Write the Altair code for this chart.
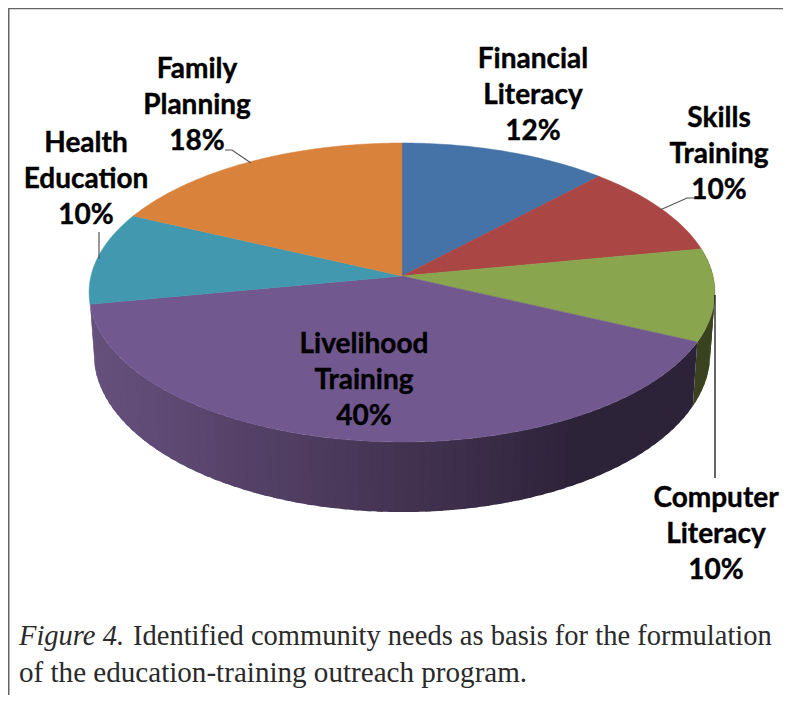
import math
import altair as alt

# ---- chart values ----
categories = ["Financial Literacy", "Skills Training", "Computer Literacy",
              "Livelihood Training", "Health Education", "Family Planning"]
shares = [12, 10, 10, 40, 10, 18]
top_colors = ["#4572a7", "#aa4643", "#89a54e", "#71588f", "#4198af", "#d8823c"]

label_lines = [
    ["Financial", "Literacy", "12%"],
    ["Skills", "Training", "10%"],
    ["Computer", "Literacy", "10%"],
    ["Livelihood", "Training", "40%"],
    ["Health", "Education", "10%"],
    ["Family", "Planning", "18%"],
]
caption_italic = "Figure 4."
caption_rest = "Identified community needs as basis for the formulation"
caption_second = "of the education-training outreach program."

# ---- layout (page pixels) ----
W, H = 775, 687
CX, R = 402, 311
label_anchor = [(533, 68), (719, 127), (716, 507), (364, 353), (86, 152), (197, 78)]
leaders = [
    [(225, 150), (232, 150), (251, 163)],
    [(99, 232), (99, 259)],
    [(695, 198), (687, 198), (660, 210)],
]
computer_leader = [(715, 295), (715, 478)]
frame = [[(8.75, 695), (8.75, 8.5), (783, 8.5)]]


def project(theta_deg, bottom=False):
    t = math.radians(theta_deg)
    u, v = math.sin(t), math.cos(t)
    w = 1 + 0.1104 * v
    x = R * u / w
    y = (276 - 117.2 * v) / w
    if bottom:
        x *= 0.985
        y += 70 * (0.89 / w) ** 1.3
    return [CX + x, y]


def side_color(x):
    stops = [(90, (0x66, 0x51, 0x7e)), (300, (0x4f, 0x3c, 0x60)),
             (400, (0x43, 0x33, 0x51)), (480, (0x3a, 0x2c, 0x48)),
             (570, (0x2d, 0x23, 0x39)), (720, (0x2d, 0x23, 0x39))]
    for (x0, c0), (x1, c1) in zip(stops, stops[1:]):
        if x0 <= x <= x1:
            f = (x - x0) / (x1 - x0)
            return "#%02x%02x%02x" % tuple(round(a + (b - a) * f) for a, b in zip(c0, c1))
    return "#%02x%02x%02x" % stops[0][1]


def poly(points, color):
    pts = [list(p) for p in points]
    pts.append(pts[0])
    return {"type": "Feature", "properties": {"color": color},
            "geometry": {"type": "Polygon", "coordinates": [pts]}}


def line(points, color, width):
    return {"type": "Feature", "properties": {"color": color, "sw": width},
            "geometry": {"type": "LineString", "coordinates": [list(p) for p in points]}}


# Turn the shares into slice boundaries
bounds = [0]
for s in shares:
    bounds.append(bounds[-1] + s * 3.6)

walls = []
# side walls: only the two slices whose rim faces the viewer; strips overlap to avoid seams
for i, (a, b) in enumerate(zip(bounds, bounds[1:])):
    if categories[i] not in ("Computer Literacy", "Livelihood Training"):
        continue
    n = max(2, int((b - a) / 2))
    for k in range(n):
        t0 = a + (b - a) * k / n
        t1 = min(b, t0 + (b - a) / n + 1.0)
        m = (t0 + t1) / 2
        strip = [project(t0 + (t1 - t0) * j / 4) for j in range(5)]
        under = [project(t0 + (t1 - t0) * j / 4, True) for j in range(4, -1, -1)]
        if categories[i] == "Computer Literacy":
            col = "#3a4220"
        else:
            col = side_color(project(m, True)[0])
        walls.append(poly(strip + under, col))

tops = []
for i, (a, b) in enumerate(zip(bounds, bounds[1:])):
    n = max(2, int(b - a))
    arc = [project(a + (b - a) * k / n) for k in range(n + 1)]
    tops.append(poly([[CX, 276]] + arc, top_colors[i]))

lines = [line(f, "#666666", 1.5) for f in frame]
lines += [line(l, "#555555", 1.2) for l in leaders]
lines.append(line(computer_leader, "#000000", 1.2))

proj = alt.Projection(type="identity", scale=1, translate=[-8, -8]).to_dict()

wall_layer = alt.Chart(alt.Data(values=walls)).mark_geoshape(strokeWidth=0).encode(
    fill=alt.Color("properties.color:N", scale=None),
).project(**proj)

top_layer = alt.Chart(alt.Data(values=tops)).mark_geoshape(strokeWidth=0.5).encode(
    fill=alt.Color("properties.color:N", scale=None),
    stroke=alt.Color("properties.color:N", scale=None),
).project(**proj)

line_layer = alt.Chart(alt.Data(values=lines)).mark_geoshape(filled=False).encode(
    stroke=alt.Color("properties.color:N", scale=None),
    strokeWidth=alt.StrokeWidth("properties.sw:Q", scale=None),
).project(**proj)

x_enc = alt.X("x:Q", scale=alt.Scale(domain=[8, 8 + W]), axis=None)
y_enc = alt.Y("y:Q", scale=alt.Scale(domain=[8, 8 + H], reverse=True), axis=None)

rows = []
for lines3, (lx, ly) in zip(label_lines, label_anchor):
    for j, t in enumerate(lines3):
        rows.append({"x": lx, "y": ly + j * 36, "t": t})
labels = alt.Chart(alt.Data(values=rows)).mark_text(
    font="Lato", fontWeight="bold", fontSize=28, color="#000000", stroke="#000000", strokeWidth=0.4,
    align="center", baseline="alphabetic"
).encode(x=x_enc, y=y_enc, text="t:N")

cap_common = dict(font="Liberation Serif", fontSize=28.5, color="#2a2a2a", align="left", baseline="alphabetic")
cap1 = alt.Chart(alt.Data(values=[{"x": 19, "y": 645, "t": caption_italic}])).mark_text(
    fontStyle="italic", **cap_common).encode(x=x_enc, y=y_enc, text="t:N")
cap2 = alt.Chart(alt.Data(values=[{"x": 133, "y": 645, "t": caption_rest}])).mark_text(
    **cap_common).encode(x=x_enc, y=y_enc, text="t:N")
cap3 = alt.Chart(alt.Data(values=[{"x": 19, "y": 682, "t": caption_second}])).mark_text(
    font="Liberation Serif", fontSize=29.1, color="#2a2a2a", align="left", baseline="alphabetic"
).encode(x=x_enc, y=y_enc, text="t:N")

chart = alt.layer(wall_layer, top_layer, line_layer, labels, cap1, cap2, cap3).properties(
    width=W, height=H, padding=0, autosize=alt.AutoSizeParams(type="none")
).configure_view(stroke=None)

chart.save("out.html", embed_options={"renderer": "svg", "actions": False})
